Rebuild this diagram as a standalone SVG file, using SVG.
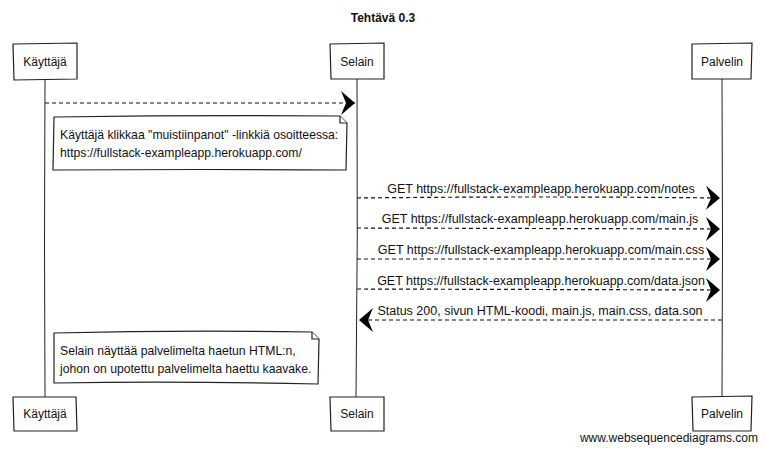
<svg xmlns="http://www.w3.org/2000/svg" width="766" height="452" viewBox="0 0 766 452">
  <style>
    .box { fill: #ffffff; stroke: #222222; stroke-width: 1.2; }
    .life { fill: none; stroke: #222222; stroke-width: 1; }
    .msg { fill: none; stroke: #111111; stroke-width: 1.2; stroke-dasharray: 4 3; }
    .note { fill: #ffffff; stroke: #222222; stroke-width: 1.2; }
    .lbl { font-family: "Liberation Sans", Arial, sans-serif; font-size: 12.5px; fill: #111111; }
    .ntxt { font-family: "Liberation Sans", Arial, sans-serif; font-size: 12.2px; fill: #111111; }
    .mid { text-anchor: middle; }
    .foot { font-family: "Liberation Sans", Arial, sans-serif; font-size: 12px; fill: #111111; text-anchor: end; }
    .actor { font-family: "Liberation Sans", Arial, sans-serif; font-size: 12px; fill: #111111; text-anchor: middle; }
    .title { font-family: "Liberation Sans", Arial, sans-serif; font-size: 12px; font-weight: bold; fill: #111111; text-anchor: middle; }
  </style>
  <defs>
    <marker id="head" viewBox="0 0 16 26" refX="15" refY="13" markerWidth="16" markerHeight="26" markerUnits="userSpaceOnUse" orient="auto">
      <path d="M1,1 L15,13 L1,25 L6,13 Z" fill="#000000"/>
    </marker>
  </defs>

  <rect width="766" height="452" fill="#ffffff"/>

  <text class="title" x="383" y="22">Tehtävä 0.3</text>

  <!-- lifelines -->
  <g id="lifelines">
    <path class="life" d="M45,79 Q44,240 45,397"/>
    <path class="life" d="M357,79 Q358,240 356,397"/>
    <path class="life" d="M722,79 Q723,240 722,397"/>
  </g>

  <!-- participants (top) -->
  <g id="kayttaja-top">
    <path class="box" d="M13,44 L77,43 L77,79 L14,80 Z"/>
    <text class="actor" x="45" y="66">Käyttäjä</text>
  </g>
  <g id="selain-top">
    <path class="box" d="M330,44 L384,43 L384,79 L331,79 Z"/>
    <text class="actor" x="357" y="66">Selain</text>
  </g>
  <g id="palvelin-top">
    <path class="box" d="M692,44 L752,43 L751,79 L692,79 Z"/>
    <text class="actor" x="722" y="66">Palvelin</text>
  </g>

  <!-- messages -->
  <g id="connectors">
    <path class="msg" d="M45,103 L355,103" marker-end="url(#head)"/>
    <path class="msg" d="M357,198 Q540,196 720,198" marker-end="url(#head)"/>
    <path class="msg" d="M357,228 L720,229" marker-end="url(#head)"/>
    <path class="msg" d="M357,259 L720,259" marker-end="url(#head)"/>
    <path class="msg" d="M357,289 L720,290" marker-end="url(#head)"/>
    <path class="msg" d="M722,320 L359,320" marker-end="url(#head)"/>
  </g>

  <!-- message labels -->
  <g id="labels">
    <text class="lbl mid" x="541" y="193">GET https://fullstack-exampleapp.herokuapp.com/notes</text>
    <text class="lbl mid" x="540" y="223">GET https://fullstack-exampleapp.herokuapp.com/main.js</text>
    <text class="lbl mid" x="541" y="254">GET https://fullstack-exampleapp.herokuapp.com/main.css</text>
    <text class="lbl mid" x="541" y="285">GET https://fullstack-exampleapp.herokuapp.com/data.json</text>
    <text class="lbl mid" x="540" y="315">Status 200, sivun HTML-koodi, main.js, main.css, data.son</text>
  </g>

  <!-- notes -->
  <g id="note-click">
    <path class="note" d="M54,117 Q200,115 340,116 L347,123 L346,170 Q200,169 53,170 Z"/>
    <path class="note" d="M340,116 L340,123 L347,123" fill="none"/>
    <text class="ntxt" x="60" y="139">Käyttäjä klikkaa "muistiinpanot" -linkkiä osoitteessa:</text>
    <text class="ntxt" x="60" y="157">https://fullstack-exampleapp.herokuapp.com/</text>
  </g>
  <g id="note-render">
    <path class="note" d="M54,333 Q180,330 312,332 L319,339 L318,384 Q180,381 54,383 Z"/>
    <path class="note" d="M312,332 L312,339 L319,339" fill="none"/>
    <text class="ntxt" x="60" y="355">Selain näyttää palvelimelta haetun HTML:n,</text>
    <text class="ntxt" x="60" y="373">johon on upotettu palvelimelta haettu kaavake.</text>
  </g>

  <!-- participants (bottom) -->
  <g id="kayttaja-bottom">
    <path class="box" d="M13,397 L76,397 L77,431 L14,431 Z"/>
    <text class="actor" x="45" y="418">Käyttäjä</text>
  </g>
  <g id="selain-bottom">
    <path class="box" d="M330,397 L384,397 L384,431 L331,431 Z"/>
    <text class="actor" x="357" y="418">Selain</text>
  </g>
  <g id="palvelin-bottom">
    <path class="box" d="M692,397 L752,396 L751,431 L693,431 Z"/>
    <text class="actor" x="722" y="418">Palvelin</text>
  </g>

  <text class="foot" x="758" y="442">www.websequencediagrams.com</text>
</svg>
